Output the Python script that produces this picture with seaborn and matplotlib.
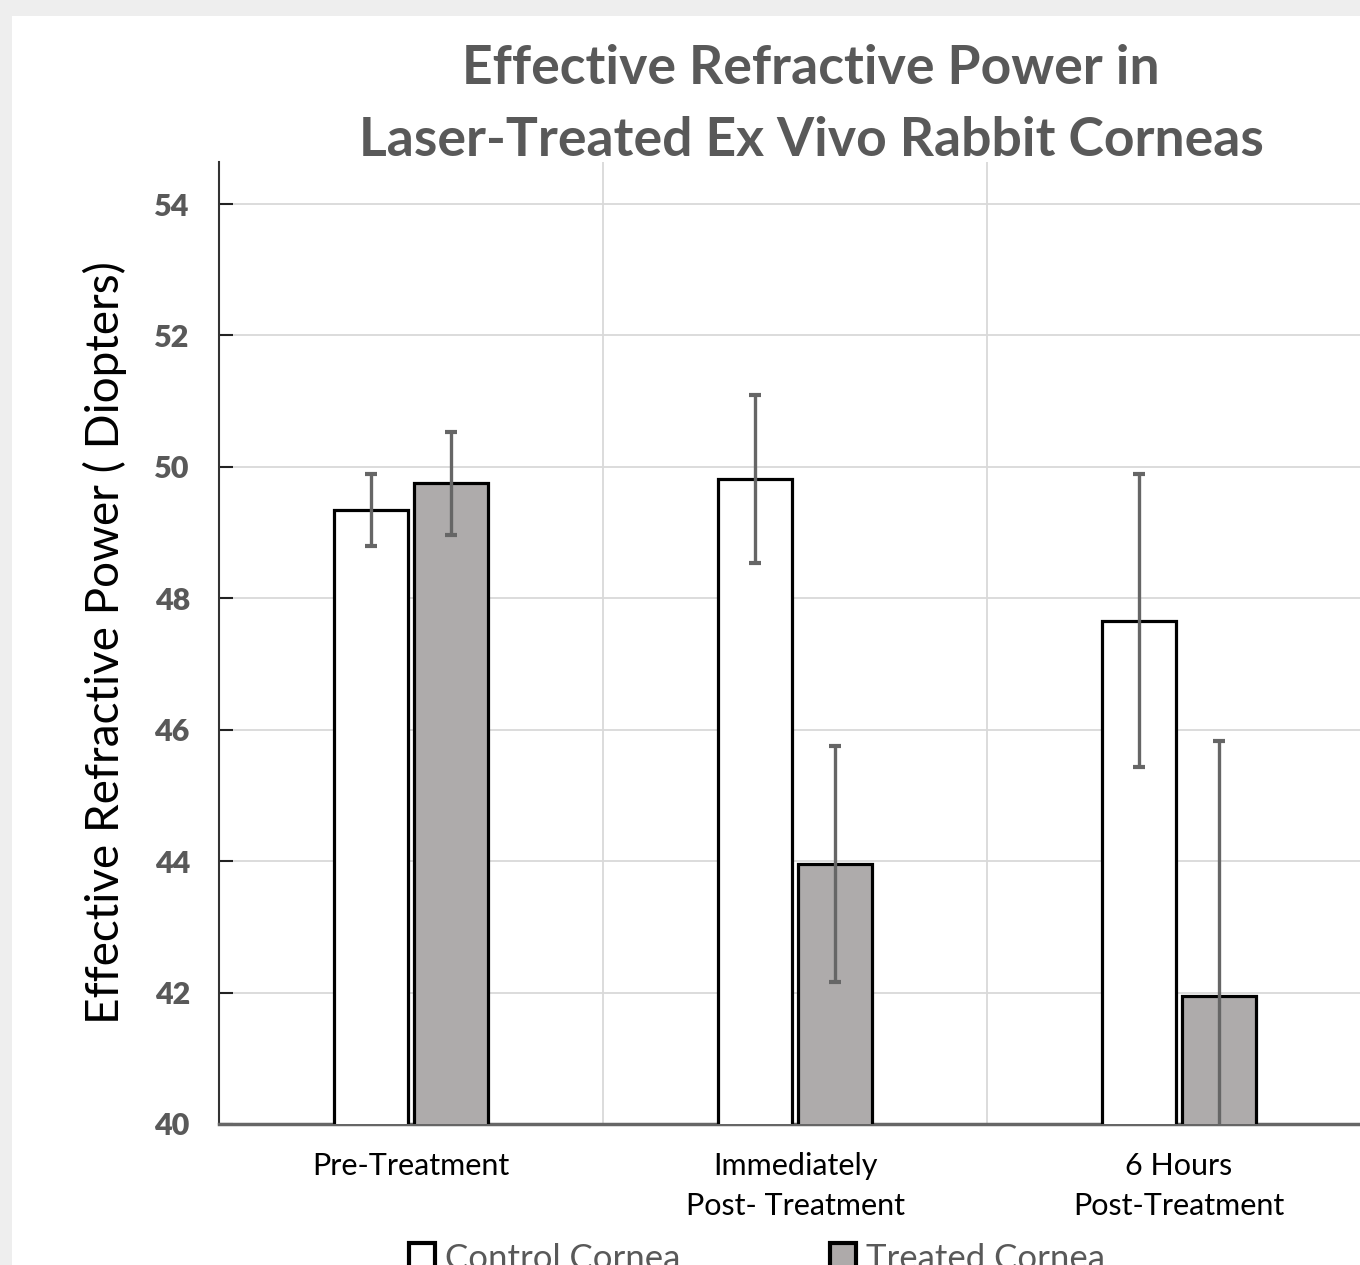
import numpy as np
import pandas as pd
import matplotlib
matplotlib.use("Agg")
import matplotlib.pyplot as plt
from matplotlib.patches import Rectangle, Patch
import seaborn as sns

# data
phases = ["Pre-Treatment", "Immediately\nPost- Treatment", "6 Hours\nPost-Treatment"]
groups = ["Control Cornea", "Treated Cornea"]
control_mean = [49.34, 49.82, 47.66]
treated_mean = [49.75, 43.96, 41.95]
control_err = [0.55, 1.28, 2.23]
treated_err = [0.78, 1.80, 3.88]
yticks = [40, 42, 44, 46, 48, 50, 52, 54]

df = pd.DataFrame({
    "phase": phases * 2,
    "group": [groups[0]] * 3 + [groups[1]] * 3,
    "value": control_mean + treated_mean,
})

sns.set_theme(style="white")
plt.rcParams["font.family"] = ["Lato", "DejaVu Sans"]

fig = plt.figure(figsize=(13.6, 12.65), dpi=100, facecolor="#eeeeee")
fig.patches.append(Rectangle((12 / 1360, 0), 1.0, 1 - 16 / 1265, transform=fig.transFigure,
                             facecolor="white", edgecolor="none", zorder=-10))

ax = fig.add_axes([219 / 1360, 141 / 1265, 1152 / 1360, 962 / 1265])
ax.set_facecolor("none")

palette = {"Control Cornea": "white", "Treated Cornea": "#aeaaaa"}
sns.barplot(data=df, x="phase", y="value", hue="group", order=phases, hue_order=groups,
            palette=palette, edgecolor="black", linewidth=2.3, width=0.42, gap=0.085,
            errorbar=None, legend=False, ax=ax, zorder=3)

# error bars placed at the bar centres seaborn computed
errs = [control_err, treated_err]
means = [control_mean, treated_mean]
for cont, m, e in zip(ax.containers, means, errs):
    xs = [b.get_x() + b.get_width() / 2 for b in cont]
    ax.errorbar(xs, m, yerr=e, fmt="none", ecolor="#666666", elinewidth=2.4,
                capsize=4.5, capthick=3, zorder=4, clip_on=True)

ax.set_ylim(40, 54.64)
ax.set_xlim(-0.5, 2.5)
ax.set_yticks(yticks)
ax.set_xticks([0.5, 1.5], minor=True)
ax.grid(axis="y", which="major", color="#d9d9d9", lw=1.3, zorder=0)
ax.grid(axis="x", which="minor", color="#d9d9d9", lw=1.3, zorder=0)
ax.set_axisbelow(True)

for s in ["top", "right"]:
    ax.spines[s].set_visible(False)
ax.spines["left"].set_color("#333333")
ax.spines["left"].set_linewidth(1.5)
ax.spines["bottom"].set_color("#666666")
ax.spines["bottom"].set_linewidth(2.5)

ax.tick_params(axis="y", direction="in", length=10, width=1.5, color="#222222",
               labelsize=22, labelcolor="#595959", pad=21, left=True)
for t in ax.get_yticklabels():
    t.set_fontweight("heavy")
ax.tick_params(axis="x", which="both", length=0, labelsize=22, labelcolor="black", pad=20)
for t in ax.get_xticklabels():
    t.set_linespacing(1.55)
ax.set_xlabel("")
ax.set_ylabel("Effective Refractive Power ( Diopters)", fontsize=33, color="black", labelpad=20)

fig.text(811 / 1360, 1 - 68 / 1265, "Effective Refractive Power in", ha="center", va="center",
         fontsize=38.5, fontweight="bold", color="#595959")
fig.text(811 / 1360, 1 - 140 / 1265, "Laser-Treated Ex Vivo Rabbit Corneas", ha="center", va="center",
         fontsize=38.5, fontweight="bold", color="#595959")

handles = [Patch(facecolor=palette[g], edgecolor="black", linewidth=3, label=g) for g in groups]
fig.legend(handles=handles, loc="center", bbox_to_anchor=(757 / 1360, 1 - 1259 / 1265), ncol=2,
           frameon=False, fontsize=25, labelcolor="#595959", handlelength=0.75, handleheight=0.85,
           handletextpad=0.3, columnspacing=4.3)

fig.savefig("out.png", dpi=100, facecolor=fig.get_facecolor())
